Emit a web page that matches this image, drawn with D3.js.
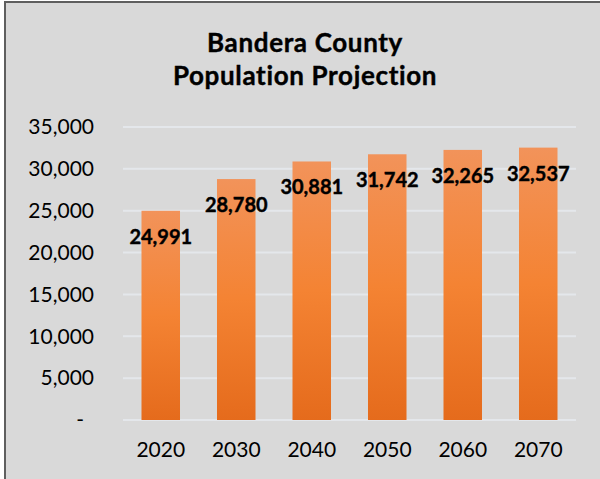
<!DOCTYPE html>
<html>
<head>
<meta charset="utf-8">
<script src="https://cdn.jsdelivr.net/npm/d3@7"></script>
<style>
  html, body { margin: 0; padding: 0; background: #ffffff; }
  svg { display: block; }
</style>
</head>
<body>
<script>
var width = 600;
var height = 479;

// data
var years = ["2020", "2030", "2040", "2050", "2060", "2070"];
var population = [24991, 28780, 30881, 31742, 32265, 32537];
var yTicks = [0, 5000, 10000, 15000, 20000, 25000, 30000, 35000];
var titleLines = ["Bandera County", "Population Projection"];

var plotLeft = 123, plotRight = 576, plotTop = 127, plotBottom = 420;

var svg = d3.select("body")
  .append("svg")
  .attr("width", width)
  .attr("height", height);

// background + frame
svg.append("rect")
  .attr("x", 5).attr("y", 2)
  .attr("width", width + 10).attr("height", height + 10)
  .attr("fill", "#d9d9d9")
  .attr("stroke", "#5f5f5f")
  .attr("stroke-width", 2);

// gradient for bars
var grad = svg.append("defs").append("linearGradient")
  .attr("id", "barGrad")
  .attr("x1", 0).attr("y1", 0).attr("x2", 0).attr("y2", 1);
grad.append("stop").attr("offset", "0%").attr("stop-color", "#f2935a");
grad.append("stop").attr("offset", "50%").attr("stop-color", "#f48333");
grad.append("stop").attr("offset", "100%").attr("stop-color", "#e56b1c");

var xScale = d3.scaleBand()
  .domain(years)
  .range([plotLeft, plotRight])
  .paddingInner(0.49)
  .paddingOuter(0.245);

var yScale = d3.scaleLinear()
  .domain([0, 35000])
  .range([plotBottom, plotTop]);

// gridlines
svg.append("g")
  .selectAll("line")
  .data(yTicks)
  .enter()
  .append("line")
  .attr("x1", plotLeft)
  .attr("x2", plotRight)
  .attr("y1", function(d) { return yScale(d); })
  .attr("y2", function(d) { return yScale(d); })
  .attr("stroke", "#e4e7eb")
  .attr("stroke-width", 2);

// y axis
var yAxis = d3.axisLeft(yScale)
  .tickValues(yTicks)
  .tickSize(0)
  .tickPadding(0)
  .tickFormat(function(d) { return d === 0 ? "-" : d3.format(",")(d); });

var yg = svg.append("g")
  .attr("transform", "translate(94,0)")
  .call(yAxis);
yg.select(".domain").remove();
yg.selectAll("text")
  .attr("font-family", "Lato, sans-serif")
  .attr("font-size", "21px")
  .attr("fill", "#000")
  .attr("dx", function(d) { return d === 0 ? "-10px" : "0"; });

// x axis
var xAxis = d3.axisBottom(xScale).tickSize(0).tickPadding(0);
var xg = svg.append("g")
  .attr("transform", "translate(0," + (plotBottom + 22) + ")")
  .call(xAxis);
xg.select(".domain").remove();
xg.selectAll("text")
  .attr("font-family", "Lato, sans-serif")
  .attr("font-size", "21px")
  .attr("fill", "#000");

// bars
svg.selectAll("rect.bar")
  .data(population)
  .enter()
  .append("rect")
  .attr("class", "bar")
  .attr("x", function(d, i) { return xScale(years[i]); })
  .attr("y", function(d) { return yScale(d); })
  .attr("width", xScale.bandwidth())
  .attr("height", function(d) { return plotBottom - yScale(d); })
  .attr("fill", "url(#barGrad)");

// value labels
svg.selectAll("text.val")
  .data(population)
  .enter()
  .append("text")
  .attr("class", "val")
  .text(function(d) { return d3.format(",")(d); })
  .attr("x", function(d, i) { return xScale(years[i]) + xScale.bandwidth() / 2; })
  .attr("y", function(d) { return yScale(d) + 33; })
  .attr("text-anchor", "middle")
  .attr("font-family", "Lato, sans-serif")
  .attr("font-weight", "bold")
  .attr("font-size", "20px")
  .attr("stroke", "#000")
  .attr("stroke-width", 0.4)
  .attr("fill", "#000");

// title
svg.selectAll("text.title")
  .data(titleLines)
  .enter()
  .append("text")
  .attr("class", "title")
  .text(function(d) { return d; })
  .attr("x", 305)
  .attr("y", function(d, i) { return 52 + i * 33; })
  .attr("text-anchor", "middle")
  .attr("font-family", "Lato, sans-serif")
  .attr("font-weight", "bold")
  .attr("font-size", "26px")
  .attr("letter-spacing", "0.65px")
  .attr("stroke", "#000")
  .attr("stroke-width", 0.4)
  .attr("fill", "#000");
</script>
</body>
</html>
